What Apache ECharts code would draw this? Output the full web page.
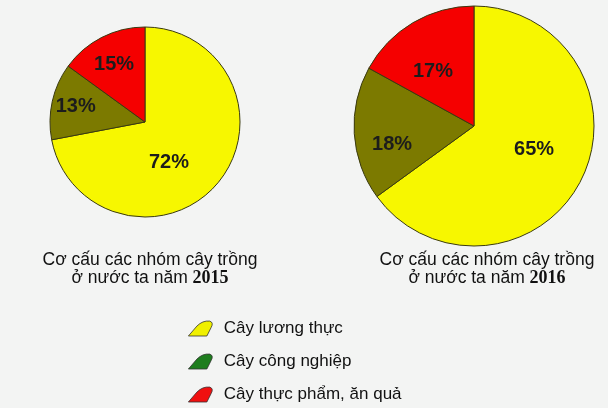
<!DOCTYPE html>
<html><head><meta charset="utf-8">
<script src="https://cdn.jsdelivr.net/npm/echarts@6/dist/echarts.min.js"></script>
<style>html,body{margin:0;padding:0;background:#f3f4f3}#c{width:608px;height:408px}</style>
</head><body><div id="c"></div>
<script>
const categories = ['Cây lương thực', 'Cây công nghiệp', 'Cây thực phẩm, ăn quả'];
const values2015 = [72, 13, 15];
const values2016 = [65, 18, 17];
const years = ['2015', '2016'];
const titleLine1 = 'Cơ cấu các nhóm cây trồng';
const titleLine2 = 'ở nước ta năm ';

const sliceColors = ['#f7f700', '#7c7a00', '#f50000'];
const legendColors = ['#f0f000', '#1e7d1e', '#f01010'];
const offs2015 = [[-15, 8], [-20, -4], [-8, -13]];
const offs2016 = [[4, -5], [-19, 15], [-9, 0]];

function mk(vals, offs) {
  return vals.map((v, i) => ({
    name: categories[i], value: v,
    itemStyle: { color: sliceColors[i] },
    label: { offset: offs[i] }
  }));
}
const labelStyle = {
  show: true, position: 'inside', formatter: '{c}%',
  fontFamily: 'Liberation Sans, Arial', fontWeight: 'bold', fontSize: 20,
  color: '#1c1c1c'
};
const chart = echarts.init(document.getElementById('c'));
const titleRich = { y: { fontFamily: 'Liberation Serif, Times New Roman', fontWeight: 'bold', fontSize: 18, color: '#111' } };
const iconPath = 'path://M0,22 L12,8 Q20,0 30,1 Q36,3 32,10 L26,22 Z';
const titleText = { fontFamily: 'Liberation Sans, Arial', fontSize: 17.5, fontWeight: 'normal', color: '#111', lineHeight: 18, rich: titleRich };
chart.setOption({
  backgroundColor: '#f3f4f3',
  animation: false,
  title: [
    { text: titleLine1 + '\n' + titleLine2 + '{y|' + years[0] + '}', left: 145, top: 246, textAlign: 'center', textStyle: titleText },
    { text: titleLine1 + '\n' + titleLine2 + '{y|' + years[1] + '}', left: 482, top: 246, textAlign: 'center', textStyle: titleText }
  ],
  legend: {
    orient: 'vertical', left: 188, top: 320, height: 120, padding: 0, itemWidth: 29, itemHeight: 15, itemGap: 16,
    icon: iconPath,
    textStyle: { fontFamily: 'Liberation Sans, Arial', fontSize: 17, color: '#111', padding: [0, 0, 0, 4] },
    data: categories.map((c, i) => ({ name: c, itemStyle: { color: legendColors[i], borderColor: '#333', borderWidth: 0.8 } }))
  },
  series: [
    { type: 'pie', center: [145, 122], radius: 95, startAngle: 90, clockwise: true,
      label: labelStyle, labelLine: { show: false },
      itemStyle: { borderColor: '#3a3a10', borderWidth: 1 },
      emphasis: { disabled: true }, data: mk(values2015, offs2015) },
    { type: 'pie', center: [474, 126], radius: 120, startAngle: 90, clockwise: true,
      label: labelStyle, labelLine: { show: false },
      itemStyle: { borderColor: '#3a3a10', borderWidth: 1 },
      emphasis: { disabled: true }, data: mk(values2016, offs2016) }
  ]
});
</script></body></html>
